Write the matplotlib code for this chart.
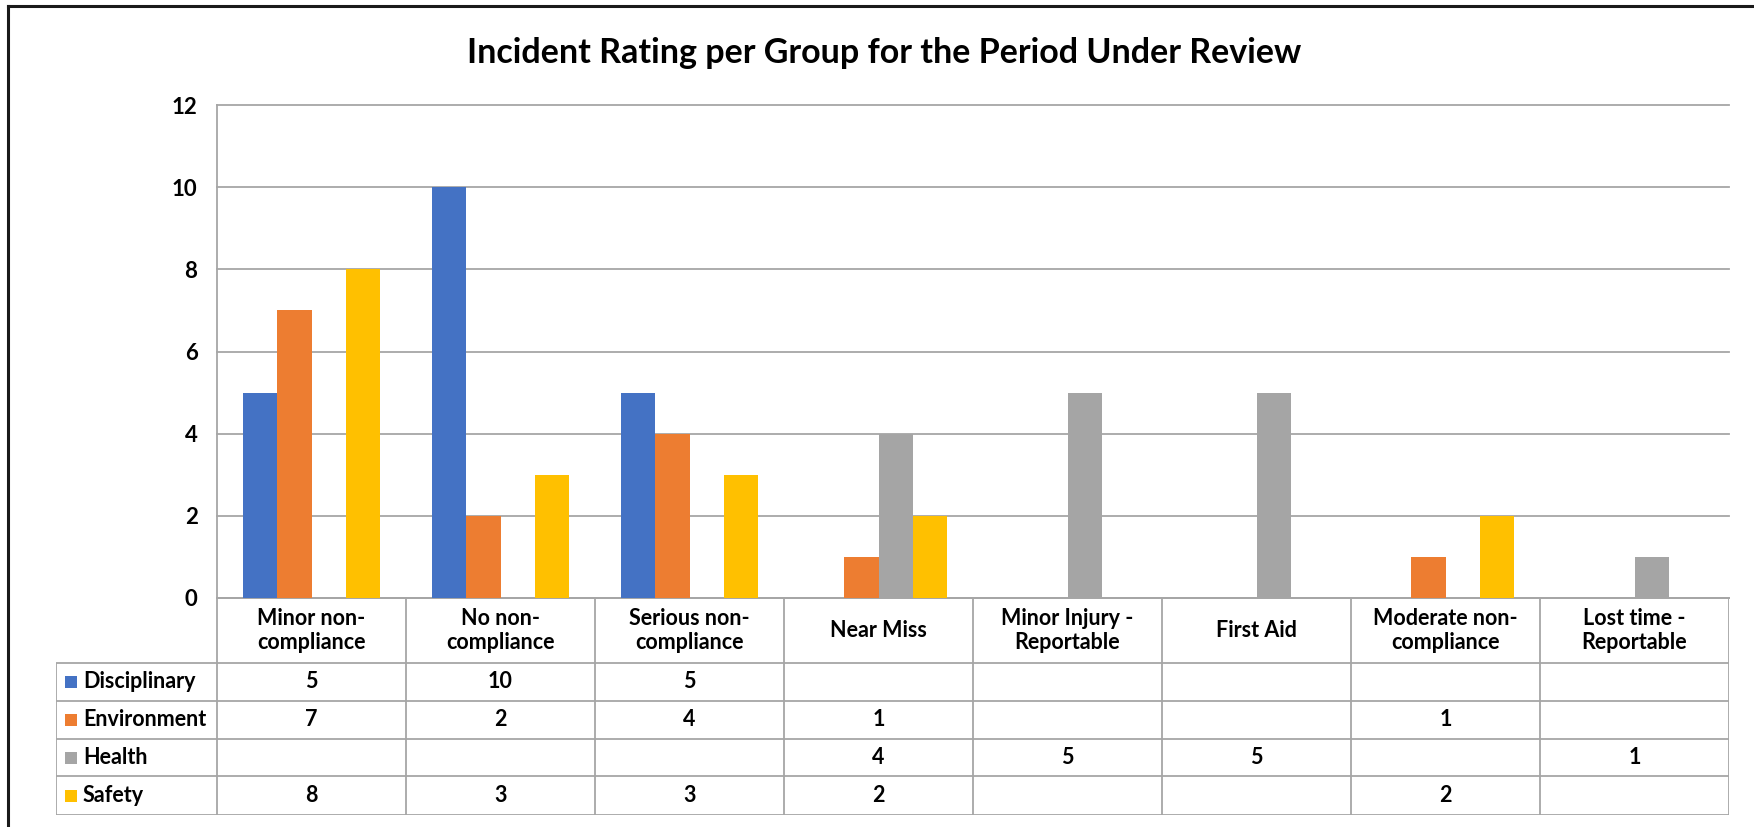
import numpy as np
import matplotlib
matplotlib.use("Agg")
import matplotlib.pyplot as plt
from matplotlib.lines import Line2D
from matplotlib.patches import Rectangle

plt.rcParams['font.family'] = ['Lato', 'DejaVu Sans']
plt.rcParams['font.weight'] = 'bold'

# ---------------- data ----------------
categories = ["Minor non-\ncompliance", "No non-\ncompliance", "Serious non-\ncompliance",
              "Near Miss", "Minor Injury -\nReportable", "First Aid",
              "Moderate non-\ncompliance", "Lost time -\nReportable"]
series_names = ["Disciplinary", "Environment", "Health", "Safety"]
disciplinary = [5, 10, 5, None, None, None, None, None]
environment = [7, 2, 4, 1, None, None, 1, None]
health = [None, None, None, 4, 5, 5, None, 1]
safety = [8, 3, 3, 2, None, None, 2, None]
series_values = [disciplinary, environment, health, safety]
colors = ["#4472C4", "#ED7D31", "#A5A5A5", "#FFC000"]
yticks = [0, 2, 4, 6, 8, 10, 12]
title = "Incident Rating per Group for the Period Under Review"

# ---------------- layout ----------------
W, H = 1754, 827
fig = plt.figure(figsize=(W / 100, H / 100), dpi=100)
fig.patch.set_facecolor("white")

fs = 15.5
grid_c = "#A6A6A6"
plot_l, plot_r, plot_t, plot_b = 217, 1729, 105, 598
ax = fig.add_axes([plot_l / W, 1 - plot_b / H, (plot_r - plot_l) / W, (plot_b - plot_t) / H])
n = len(categories)
ax.set_xlim(-0.5, n - 0.5)
ax.set_ylim(0, 12)
bw = 0.1825
x = np.arange(n)
for i, (vals, c) in enumerate(zip(series_values, colors)):
    v = np.array([np.nan if a is None else a for a in vals], dtype=float)
    ax.bar(x + (i - 1.5) * bw, v, width=bw, color=c, zorder=3, linewidth=0)

ax.set_yticks(yticks)
ax.set_yticklabels([str(t) for t in yticks], fontsize=16, fontweight='bold')
ax.tick_params(axis='y', length=0, pad=14)
ax.set_xticks([])
ax.yaxis.grid(True, color=grid_c, lw=1.3, zorder=0)
for gl in ax.get_ygridlines():
    gl.set_clip_on(False)
for s in ["top", "right"]:
    ax.spines[s].set_visible(False)
for s in ["left", "bottom"]:
    ax.spines[s].set_color(grid_c)
    ax.spines[s].set_linewidth(1.3)

# ---------------- data table ----------------
tab_l, tab_b = 56, 815
tax = fig.add_axes([tab_l / W, 1 - tab_b / H, (plot_r - tab_l) / W, (tab_b - plot_b) / H])
unit = (plot_r - plot_l) / n
xl = -0.5 - (plot_l - tab_l) / unit
tax.set_xlim(xl, n - 0.5)
tax.set_ylim(tab_b - plot_b, 0)
tax.axis("off")
rows = [0, 65, 103, 141, 178, 217]
lk = dict(color=grid_c, lw=1.3, solid_capstyle='butt')
for k in range(n + 1):
    tax.plot([-0.5 + k, -0.5 + k], [0, rows[-1]], **lk)
tax.plot([xl, xl], [rows[1], rows[-1]], **lk)
for r in rows[1:]:
    tax.plot([xl, n - 0.5], [r, r], **lk)

for i, cat in enumerate(categories):
    tax.text(i, (rows[0] + rows[1]) / 2, cat, ha='center', va='center', fontsize=fs,
             fontweight='bold', linespacing=1.2)

sq = 12
for j, (name, vals, c) in enumerate(zip(series_names, series_values, colors)):
    yc = (rows[j + 1] + rows[j + 2]) / 2
    tax.add_patch(Rectangle((xl + 9 / unit, yc - sq / 2), sq / unit, sq, color=c, lw=0))
    tax.text(xl + 27 / unit, yc, name, ha='left', va='center', fontsize=fs, fontweight='bold')
    for i, v in enumerate(vals):
        if v is not None:
            tax.text(i, yc, str(v), ha='center', va='center', fontsize=fs, fontweight='bold')

# ---------------- title & frame ----------------
fig.text(884 / W, 1 - 53 / H, title, ha='center', va='center', fontsize=24.5, fontweight='bold')
fig.add_artist(Line2D([8 / W, 8 / W], [0, 1 - 6 / H], color="#1a1a1a", lw=2.2))
fig.add_artist(Line2D([8 / W, 1], [1 - 6 / H, 1 - 6 / H], color="#1a1a1a", lw=2.2))

fig.savefig("out.png", dpi=100)
